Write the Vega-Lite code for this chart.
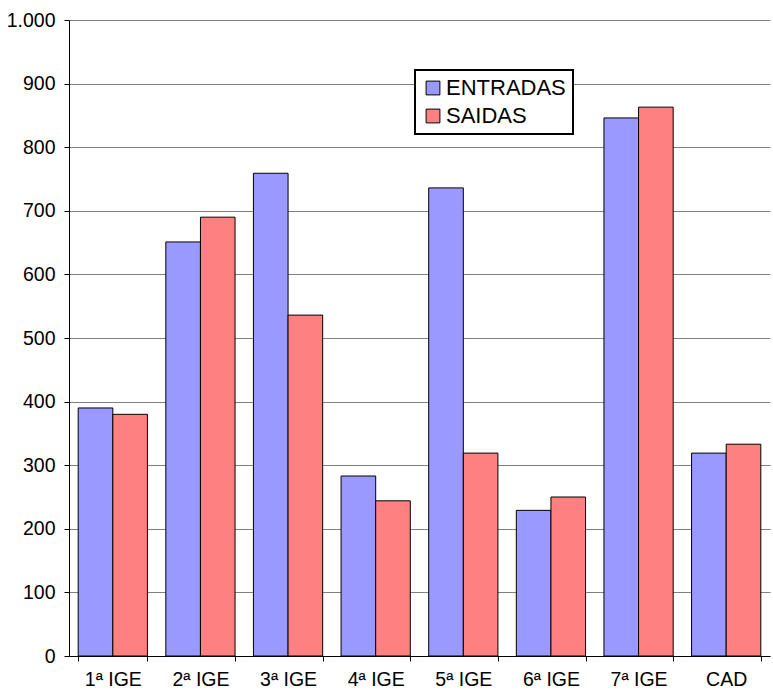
{
  "$schema": "https://vega.github.io/schema/vega-lite/v6.json",
  "width": 701,
  "height": 636,
  "autosize": {"type": "none"},
  "padding": {"left": 69, "top": 20, "right": 3, "bottom": 36},
  "background": "white",
  "config": {
    "font": "Liberation Sans",
    "view": {"stroke": null}
  },
  "data": {
    "values": [
      {"cat": "1ª IGE", "serie": "ENTRADAS", "valor": 390},
      {"cat": "1ª IGE", "serie": "SAIDAS", "valor": 380},
      {"cat": "2ª IGE", "serie": "ENTRADAS", "valor": 651},
      {"cat": "2ª IGE", "serie": "SAIDAS", "valor": 690},
      {"cat": "3ª IGE", "serie": "ENTRADAS", "valor": 759},
      {"cat": "3ª IGE", "serie": "SAIDAS", "valor": 536},
      {"cat": "4ª IGE", "serie": "ENTRADAS", "valor": 283},
      {"cat": "4ª IGE", "serie": "SAIDAS", "valor": 244},
      {"cat": "5ª IGE", "serie": "ENTRADAS", "valor": 736},
      {"cat": "5ª IGE", "serie": "SAIDAS", "valor": 319},
      {"cat": "6ª IGE", "serie": "ENTRADAS", "valor": 229},
      {"cat": "6ª IGE", "serie": "SAIDAS", "valor": 250},
      {"cat": "7ª IGE", "serie": "ENTRADAS", "valor": 846},
      {"cat": "7ª IGE", "serie": "SAIDAS", "valor": 863},
      {"cat": "CAD", "serie": "ENTRADAS", "valor": 319},
      {"cat": "CAD", "serie": "SAIDAS", "valor": 333}
    ]
  },
  "mark": {"type": "bar", "stroke": "black", "strokeWidth": 1},
  "encoding": {
    "x": {
      "field": "cat",
      "type": "nominal",
      "sort": null,
      "scale": {"paddingInner": 0.21, "paddingOuter": 0.105},
      "axis": {
        "title": null,
        "labelAngle": 0,
        "labelFontSize": 19.5,
        "labelColor": "black",
        "labelPadding": 9,
        "domainColor": "black",
        "tickColor": "black",
        "tickBand": "extent",
        "tickSize": 5,
        "grid": false
      }
    },
    "xOffset": {"field": "serie", "type": "nominal"},
    "y": {
      "field": "valor",
      "type": "quantitative",
      "scale": {"domain": [0, 1000], "nice": false},
      "axis": {
        "title": null,
        "values": [0, 100, 200, 300, 400, 500, 600, 700, 800, 900, 1000],
        "labelExpr": "replace(format(datum.value, ','), ',', '.')",
        "labelFontSize": 19.5,
        "labelColor": "black",
        "labelPadding": 9,
        "domainColor": "black",
        "tickColor": "black",
        "tickSize": 5,
        "grid": true,
        "gridColor": "#808080",
        "gridWidth": 1
      }
    },
    "color": {
      "field": "serie",
      "type": "nominal",
      "scale": {"domain": ["ENTRADAS", "SAIDAS"], "range": ["#9999FF", "#FF8080"]},
      "legend": {
        "title": null,
        "orient": "none",
        "legendX": 346,
        "legendY": 50,
        "fillColor": "white",
        "strokeColor": "black",
        "padding": 7,
        "labelFontSize": 22,
        "labelColor": "black",
        "symbolType": "square",
        "symbolSize": 190,
        "symbolStrokeColor": "black",
        "symbolStrokeWidth": 1,
        "rowPadding": 6,
        "labelOffset": 2,
        "encode": {"legend": {"update": {"strokeWidth": {"value": 2}}}}
      }
    }
  }
}
